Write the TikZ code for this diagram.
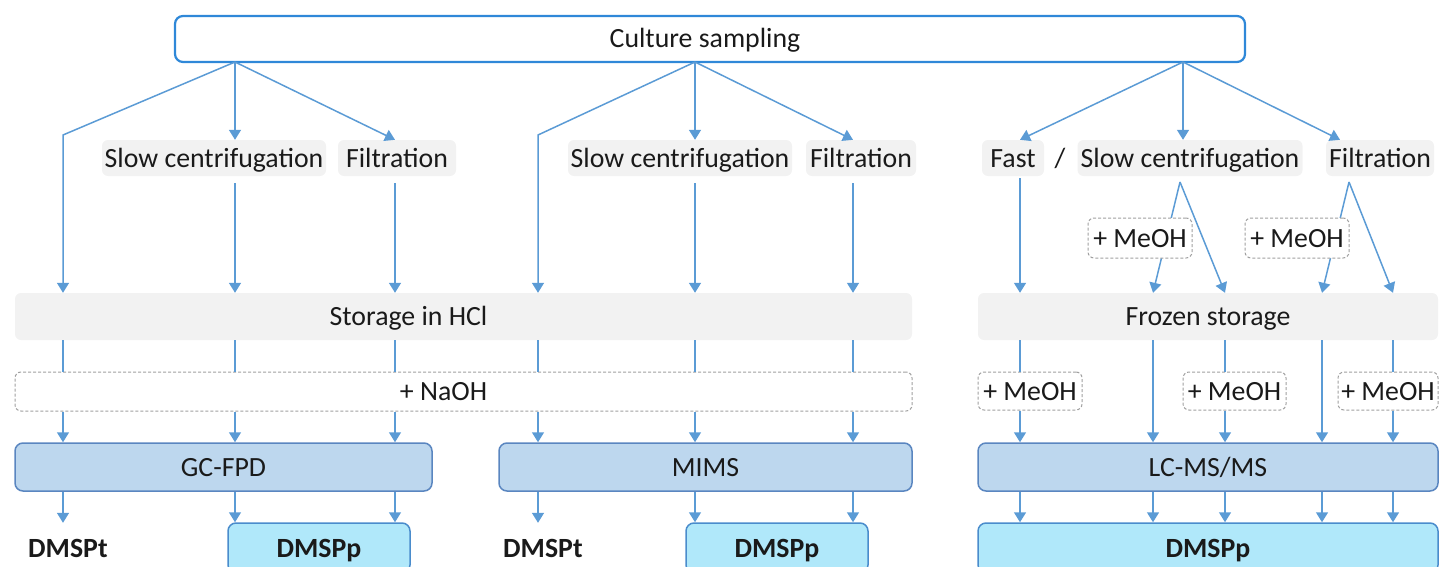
\documentclass[tikz,border=0pt]{standalone}
\usepackage{fontspec}
\setmainfont{Carlito}
\usetikzlibrary{arrows.meta}
\definecolor{arrowblue}{HTML}{5B9BD5}
\definecolor{topblue}{HTML}{2F88D8}
\definecolor{grayfill}{HTML}{F2F2F2}
\definecolor{dashgray}{HTML}{A0A0A0}
\definecolor{instfill}{HTML}{BDD7EE}
\definecolor{instdraw}{HTML}{5A86C0}
\definecolor{outfill}{HTML}{B0E8FA}
\definecolor{outdraw}{HTML}{4A8CCC}
\definecolor{textc}{HTML}{1A1A1A}
\begin{document}
\begin{tikzpicture}[x=1pt,y=-1pt,
  every node/.style={font=\fontsize{27.8}{32}\selectfont, text=textc, inner sep=0pt, text height=22pt, text depth=4pt},
  topbox/.style={draw=topblue, line width=2.2pt, fill=white, rounded corners=8pt},
  lbl/.style={fill=grayfill, rounded corners=6pt},
  dashbox/.style={draw=dashgray, line width=1pt, dash pattern=on 3pt off 2pt, fill=white, rounded corners=6pt},
  instbox/.style={draw=instdraw, line width=1.5pt, fill=instfill, rounded corners=8pt},
  outbox/.style={draw=outdraw, line width=1.5pt, fill=outfill, rounded corners=8pt, font=\fontsize{27.8}{32}\selectfont\bfseries},
  outtxt/.style={font=\fontsize{27.8}{32}\selectfont\bfseries},
  ln/.style={draw=arrowblue, line width=1.5pt},
  arr/.style={draw=arrowblue, line width=1.5pt, -{Triangle[width=12pt,length=10pt]}}
]
\useasboundingbox (0,0) rectangle (1439,567);

% top
\node[topbox, minimum width=1070, minimum height=46] (cs) at (710,39) {\hspace*{-10pt}Culture sampling};

% second row labels
\node[lbl, minimum width=224, minimum height=36] (sc1) at (214,158) {Slow centrifugation};
\node[lbl, minimum width=118, minimum height=36] (fi1) at (397,158) {Filtration};
\node[lbl, minimum width=224, minimum height=36] (sc2) at (680,158) {Slow centrifugation};
\node[lbl, minimum width=110, minimum height=36] (fi2) at (861,158) {Filtration};
\node[lbl, minimum width=62, minimum height=36] (fast) at (1013,158) {Fast};
\node (slash) at (1060,158) {/};
\node[lbl, minimum width=225, minimum height=36] (sc3) at (1190,158) {Slow centrifugation};
\node[lbl, minimum width=108, minimum height=36] (fi3) at (1380,158) {Filtration};

% storage
\node[lbl, minimum width=897, minimum height=47] (hcl) at (463.5,316.5) {\hspace*{-110pt}Storage in HCl};
\node[lbl, minimum width=460, minimum height=47] (frz) at (1208,316.5) {Frozen storage};

% NaOH
\node[dashbox, minimum width=897, minimum height=39] (naoh) at (463.5,391.5) {\hspace*{-40pt}+ NaOH};

% instruments
\node[instbox, minimum width=417, minimum height=48] (gc) at (223.5,467) {GC-FPD};
\node[instbox, minimum width=413, minimum height=48] (mims) at (705.5,467) {MIMS};
\node[instbox, minimum width=460, minimum height=48] (lc) at (1208,467) {LC-MS/MS};

% outputs
\node[outtxt, minimum height=50] (dt1) at (68,548) {DMSPt};
\node[outtxt, minimum height=50] (dt2) at (543,548) {DMSPt};
\node[outbox, minimum width=182, minimum height=50] (pp1) at (319,548) {DMSPp};
\node[outbox, minimum width=182, minimum height=50] (pp2) at (777,548) {DMSPp};
\node[outbox, minimum width=460, minimum height=50] (pp3) at (1208,548) {DMSPp};

% column coordinates
\coordinate (xa1) at (63,0);
\coordinate (xa2) at (235,0);
\coordinate (xa3) at (395,0);
\coordinate (xb1) at (538,0);
\coordinate (xb2) at (695,0);
\coordinate (xb3) at (853,0);
\coordinate (xr1) at (1020,0);
\coordinate (xr2) at (1153,0);
\coordinate (xr3) at (1225,0);
\coordinate (xr4) at (1322,0);
\coordinate (xr5) at (1393,0);
\coordinate (xf3) at (1340,0);

% origins on top box
\coordinate (o1) at (235,62);
\coordinate (o2) at (695,62);
\coordinate (o3) at (1183,62);
\coordinate (k1) at (63,135);
\coordinate (k2) at (538,135);

% left group from top
\draw[arr] (o1) -- (k1) -- (k1 |- hcl.north);
\draw[arr] (o1) -- (o1 |- sc1.north);
\draw[arr] (o1) -- (xa3 |- fi1.north);
\draw[arr, shorten <=7pt] (xa2 |- sc1.south) -- (xa2 |- hcl.north);
\draw[arr, shorten <=7pt] (xa3 |- fi1.south) -- (xa3 |- hcl.north);

% middle group from top
\draw[arr] (o2) -- (k2) -- (k2 |- hcl.north);
\draw[arr] (o2) -- (o2 |- sc2.north);
\draw[arr] (o2) -- (xb3 |- fi2.north);
\draw[arr, shorten <=7pt] (xb2 |- sc2.south) -- (xb2 |- hcl.north);
\draw[arr, shorten <=7pt] (xb3 |- fi2.south) -- (xb3 |- hcl.north);

% right group from top
\draw[arr] (o3) -- (xr1 |- fast.north);
\draw[arr] (o3) -- (o3 |- sc3.north);
\draw[arr] (o3) -- (xf3 |- fi3.north);
\draw[arr, shorten <=2pt] (xr1 |- fast.south) -- (xr1 |- frz.north);

\coordinate (s3) at (1180,182);
\coordinate (f3s) at (1349,182);
\draw[arr] (s3) -- (xr2 |- frz.north);
\draw[arr] (s3) -- (xr3 |- frz.north);
\draw[arr] (f3s) -- (xr4 |- frz.north);
\draw[arr] (f3s) -- (xr5 |- frz.north);
\node[dashbox, minimum width=104, minimum height=40] (meohA) at (1140,238) {+ MeOH};
\node[dashbox, minimum width=104, minimum height=40] (meohB) at (1297,238) {+ MeOH};

% HCl -> NaOH -> instruments
\foreach \c in {xa1,xa2,xa3,xb1,xb2,xb3}{
  \draw[ln] (\c |- hcl.south) -- (\c |- naoh.north);
  \draw[arr] (\c |- naoh.south) -- (\c |- gc.north);
}

% instruments -> outputs (left, middle)
\draw[arr] (xa1 |- gc.south) -- (xa1 |- dt1.north);
\draw[arr] (xa2 |- gc.south) -- (xa2 |- pp1.north);
\draw[arr] (xa3 |- gc.south) -- (xa3 |- pp1.north);
\draw[arr] (xb1 |- mims.south) -- (xb1 |- dt2.north);
\draw[arr] (xb2 |- mims.south) -- (xb2 |- pp2.north);
\draw[arr] (xb3 |- mims.south) -- (xb3 |- pp2.north);

% frozen -> MeOH -> LC
\node[dashbox, minimum width=104, minimum height=38] (meohC) at (1030,391) {+ MeOH};
\node[dashbox, minimum width=103, minimum height=38] (meohD) at (1234.5,391) {+ MeOH};
\node[dashbox, minimum width=100, minimum height=38] (meohE) at (1388,391) {+ MeOH};
\draw[ln] (xr1 |- frz.south) -- (xr1 |- meohC.north);
\draw[arr] (xr1 |- meohC.south) -- (xr1 |- lc.north);
\draw[arr] (xr2 |- frz.south) -- (xr2 |- lc.north);
\draw[ln] (xr3 |- frz.south) -- (xr3 |- meohD.north);
\draw[arr] (xr3 |- meohD.south) -- (xr3 |- lc.north);
\draw[arr] (xr4 |- frz.south) -- (xr4 |- lc.north);
\draw[ln] (xr5 |- frz.south) -- (xr5 |- meohE.north);
\draw[arr] (xr5 |- meohE.south) -- (xr5 |- lc.north);

% LC -> DMSPp
\foreach \c in {xr1,xr2,xr3,xr4,xr5}{
  \draw[arr] (\c |- lc.south) -- (\c |- pp3.north);
}
\end{tikzpicture}
\end{document}
